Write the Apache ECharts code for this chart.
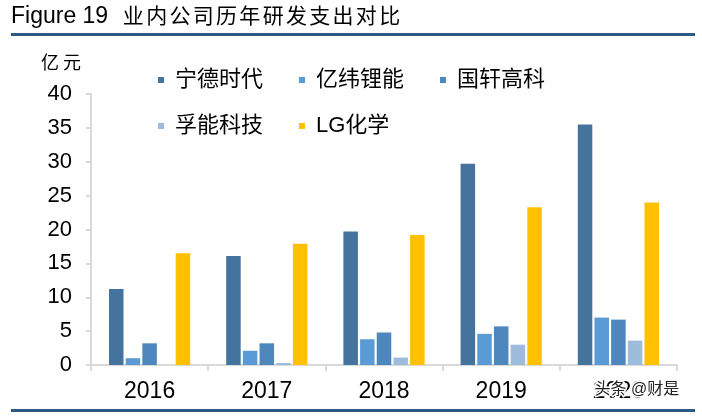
<!DOCTYPE html>
<html>
<head>
<meta charset="utf-8">
<script src="https://cdn.jsdelivr.net/npm/echarts@6/dist/echarts.min.js"></script>
<style>
html,body{margin:0;padding:0;background:#fff;}
#chart{width:702px;height:416px;}
</style>
</head>
<body>
<div id="chart"></div>
<script>
var years = ['2016', '2017', '2018', '2019', '2020'];
var seriesNames = ['宁德时代', '亿纬锂能', '国轩高科', '孚能科技', 'LG化学'];
var catl = [11.2, 16.1, 19.7, 29.7, 35.5];
var eve = [1.0, 2.1, 3.8, 4.6, 7.0];
var gotion = [3.2, 3.2, 4.8, 5.7, 6.7];
var farasis = [null, 0.3, 1.1, 3.0, 3.6];
var lgchem = [16.5, 17.9, 19.2, 23.3, 24.0];
var yTicks = { min: 0, max: 40, interval: 5 };
var seriesColors = ['#44739E', '#5B9BD5', '#4E86BE', '#9DBBDB', '#FFC000'];
var titleLatin = 'Figure 19';
var titleCJK = '业内公司历年研发支出对比';
var unitText = '亿元';

var FONT = '"Liberation Sans", Arial, "Noto Sans CJK SC", sans-serif';
var values = [catl, eve, gotion, farasis, lgchem];

function spaced(str, key) {
  return str.split('').map(function (ch) { return '{' + key + '|' + ch + '}'; }).join('');
}

var chart = echarts.init(document.getElementById('chart'), null, { renderer: 'canvas' });

var legendCommon = {
  left: 158,
  padding: 0,
  icon: 'rect',
  itemWidth: 6,
  itemHeight: 6,
  itemGap: 36,
  selectedMode: false,
  textStyle: { fontFamily: FONT, fontSize: 22, color: '#000', lineHeight: 24, padding: [0, 0, 0, 6] }
};

var option = {
  backgroundColor: '#fff',
  animation: false,
  title: [
    {
      text: '{a|' + titleLatin + '}' + spaced(titleCJK, 'c'),
      left: 11, top: 5, padding: 0,
      textStyle: {
        fontFamily: FONT, fontSize: 22, fontWeight: 'normal', color: '#000', lineHeight: 24,
        rich: {
          a: { fontFamily: FONT, fontSize: 23, color: '#000', lineHeight: 24, width: 110.7, align: 'left' },
          c: { fontFamily: FONT, fontSize: 21, color: '#000', lineHeight: 24, width: 23.3, align: 'center' }
        }
      }
    },
    {
      text: spaced(unitText, 'u'),
      left: 39, top: 54, padding: 0,
      textStyle: {
        fontFamily: FONT, fontSize: 18, fontWeight: 'normal', color: '#000', lineHeight: 20,
        rich: { u: { fontFamily: FONT, fontSize: 18, color: '#000', lineHeight: 20, width: 22, align: 'center' } }
      }
    }
  ],
  legend: [
    Object.assign({}, legendCommon, { top: 68, data: seriesNames.slice(0, 3) }),
    Object.assign({}, legendCommon, { top: 114, data: seriesNames.slice(3) })
  ],
  grid: { left: 91, right: 25, top: 94, bottom: 51, containLabel: false },
  xAxis: {
    type: 'category',
    data: years,
    axisLine: { lineStyle: { color: '#D9D9D9', width: 2 } },
    axisTick: { show: true, length: 6, lineStyle: { color: '#D9D9D9', width: 2 } },
    axisLabel: { fontFamily: FONT, fontSize: 23, color: '#000', margin: 15 },
    splitLine: { show: false }
  },
  yAxis: {
    type: 'value',
    min: yTicks.min, max: yTicks.max, interval: yTicks.interval,
    axisLine: { show: true, lineStyle: { color: '#D9D9D9', width: 2 } },
    axisTick: { show: true, length: 5, lineStyle: { color: '#D9D9D9', width: 2 } },
    axisLabel: { fontFamily: FONT, fontSize: 22, color: '#000', margin: 19 },
    splitLine: { show: false }
  },
  series: seriesNames.map(function (name, i) {
    return {
      name: name,
      type: 'bar',
      data: values[i],
      barWidth: 14.5,
      barGap: '15%',
      itemStyle: { color: seriesColors[i] }
    };
  }),
  graphic: [
    { type: 'rect', shape: { x: 11, y: 33, width: 684, height: 3 }, style: { fill: '#2D5986' }, silent: true },
    { type: 'rect', shape: { x: 11, y: 409, width: 684, height: 3 }, style: { fill: '#2D5986' }, silent: true },
    {
      type: 'text', left: 593, top: 380, z: 100,
      style: { text: '头条 @财是', fontFamily: FONT, fontSize: 16, fill: '#222', stroke: '#fff', lineWidth: 3 }
    }
  ]
};
chart.setOption(option);
</script>
</body>
</html>
